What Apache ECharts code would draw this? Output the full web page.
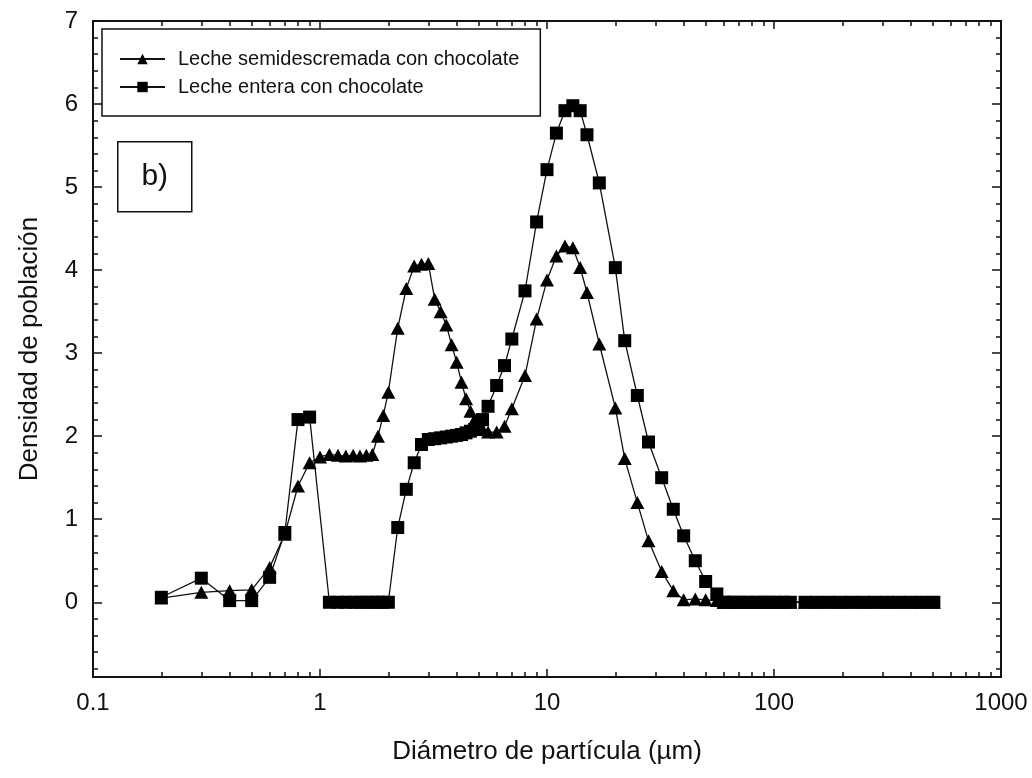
<!DOCTYPE html>
<html>
<head>
<meta charset="utf-8">
<script src="https://cdn.jsdelivr.net/npm/echarts@6/dist/echarts.min.js"></script>
<style>
  html, body { margin: 0; padding: 0; background: #ffffff; }
  #chart { width: 1032px; height: 778px; }
</style>
</head>
<body>
<div id="chart"></div>
<script>
// Particle diameter (µm) of every size class
const diametro = [
  0.2, 0.3, 0.4, 0.5, 0.6, 0.7, 0.8, 0.9, 1.0,
  1.1, 1.2, 1.3, 1.4, 1.5, 1.6, 1.7, 1.8, 1.9, 2.0,
  2.2, 2.4, 2.6, 2.8, 3.0, 3.2, 3.4, 3.6, 3.8, 4.0,
  4.2, 4.4, 4.6, 4.8, 5.0, 5.2, 5.5, 6.0, 6.5, 7.0,
  8, 9, 10, 11, 12, 13, 14, 15, 17, 20,
  22, 25, 28, 32, 36, 40, 45, 50, 56,
  60, 63, 67, 72, 77, 83, 89, 95, 102, 110, 118,
  137, 154, 174, 196, 220, 248, 279, 315, 354, 399, 449, 506
];

// Population density, semi-skimmed chocolate milk
const semidescremada = [
  0.05, 0.12, 0.14, 0.15, 0.42, 0.82, 1.40, 1.68, 1.75,
  1.78, 1.77, 1.76, 1.77, 1.76, 1.77, 1.78, 2.00, 2.25, 2.53,
  3.30, 3.78, 4.05, 4.07, 4.08, 3.65, 3.50, 3.34, 3.10, 2.89,
  2.65, 2.45, 2.30, 2.20, 2.13, 2.08, 2.05, 2.05, 2.12, 2.33,
  2.73, 3.41, 3.88, 4.17, 4.29, 4.27, 4.03, 3.73, 3.11, 2.34,
  1.73, 1.20, 0.74, 0.37, 0.14, 0.03, 0.04, 0.03, 0.02,
  0, 0, 0, 0, 0, 0, 0, 0, 0, 0, 0,
  0, 0, 0, 0, 0, 0, 0, 0, 0, 0, 0, 0
];

// Population density, whole chocolate milk (null: no reading in that class)
const entera = [
  0.06, 0.29, 0.02, 0.02, 0.30, 0.84, 2.20, 2.23, null,
  0, 0, 0, 0, 0, 0, 0, 0, 0, 0,
  0.90, 1.36, 1.68, 1.90, 1.96, 1.97, 1.98, 1.99, 2.00, 2.01,
  2.02, 2.04, 2.06, 2.08, 2.12, 2.20, 2.36, 2.61, 2.85, 3.17,
  3.75, 4.58, 5.21, 5.65, 5.92, 5.98, 5.92, 5.63, 5.05, 4.03,
  3.15, 2.49, 1.93, 1.50, 1.12, 0.80, 0.50, 0.25, 0.10,
  0, 0, 0, 0, 0, 0, 0, 0, 0, 0, 0,
  0, 0, 0, 0, 0, 0, 0, 0, 0, 0, 0, 0
];

const nombresSeries = ['Leche semidescremada con chocolate', 'Leche entera con chocolate'];
const ticksY = [0, 1, 2, 3, 4, 5, 6, 7];
const rangoY = [-0.9, 7];
const rangoX = [0.1, 1000];

// minor y ticks every 0.2
const ticksYMenores = [];
for (let i = -4; i <= 34; i++) { if (i % 5 !== 0) ticksYMenores.push(i / 5); }
// minor log ticks (2..9 of each decade), placed on a log10 companion axis
const ticksXMenores = [];
for (let e = -1; e < 3; e++) { for (let k = 2; k <= 9; k++) ticksXMenores.push(e + Math.log10(k)); }

const FONT = '"Liberation Sans", Arial, sans-serif';
const INK = '#111111';
const lineaEje = { show: true, onZero: false, lineStyle: { color: INK, width: 2 } };
const sinLinea = { show: false, onZero: false };

function ejeXLog(pos, labels) {
  return {
    type: 'log', logBase: 10, min: rangoX[0], max: rangoX[1], position: pos,
    axisLine: lineaEje,
    axisTick: { show: true, inside: true, length: 8, lineStyle: { color: INK, width: 1.5 } },
    axisLabel: labels ? {
      show: true, fontFamily: FONT, fontSize: 24, color: INK, margin: 14,
      formatter: v => String(+v.toPrecision(3))
    } : { show: false },
    splitLine: { show: false }, minorTick: { show: false }
  };
}
function ejeXMenor(pos) {
  return {
    type: 'value', min: -1, max: 3, position: pos,
    axisLine: sinLinea,
    axisTick: { show: true, inside: true, length: 5, customValues: ticksXMenores, lineStyle: { color: INK, width: 1.5 } },
    axisLabel: { show: false }, splitLine: { show: false }
  };
}
function ejeY(pos, labels) {
  return {
    type: 'value', min: rangoY[0], max: rangoY[1], position: pos,
    axisLine: lineaEje,
    axisTick: { show: true, inside: true, length: 9, customValues: ticksY, lineStyle: { color: INK, width: 1.5 } },
    axisLabel: labels ? {
      show: true, customValues: ticksY, fontFamily: FONT, fontSize: 24, color: INK, margin: 15
    } : { show: false },
    splitLine: { show: false }
  };
}
function ejeYMenor(pos) {
  return {
    type: 'value', min: rangoY[0], max: rangoY[1], position: pos,
    axisLine: sinLinea,
    axisTick: { show: true, inside: true, length: 5, customValues: ticksYMenores, lineStyle: { color: INK, width: 1.5 } },
    axisLabel: { show: false }, splitLine: { show: false }
  };
}

const ejeXPrincipal = ejeXLog('bottom', true);
ejeXPrincipal.name = 'Diámetro de partícula (µm)';
ejeXPrincipal.nameLocation = 'middle';
ejeXPrincipal.nameGap = 62;
ejeXPrincipal.nameTextStyle = { fontFamily: FONT, fontSize: 26, color: INK };

const ejeYPrincipal = ejeY('left', true);
ejeYPrincipal.name = 'Densidad de población';
ejeYPrincipal.nameLocation = 'middle';
ejeYPrincipal.nameRotate = 90;
ejeYPrincipal.nameGap = 50;
ejeYPrincipal.nameTextStyle = { fontFamily: FONT, fontSize: 26, color: INK };

const puntos = (ys) => diametro.map((d, i) => [d, ys[i]]);

const chart = echarts.init(document.getElementById('chart'), null, { renderer: 'canvas' });
chart.setOption({
  animation: false,
  backgroundColor: '#ffffff',
  grid: { left: 93, right: 31, top: 21, bottom: 101, containLabel: false },
  xAxis: [ejeXPrincipal, ejeXMenor('bottom'), ejeXLog('top', false), ejeXMenor('top')],
  yAxis: [ejeYPrincipal, ejeYMenor('left'), ejeY('right', false), ejeYMenor('right')],
  legend: {
    orient: 'vertical', left: 102, top: 29,
    padding: [20, 21, 19, 17], itemGap: 8,
    itemWidth: 45, itemHeight: 13,
    borderColor: INK, borderWidth: 1.5, backgroundColor: '#ffffff',
    textStyle: { fontFamily: FONT, fontSize: 20, color: INK, padding: [0, 0, 0, 8] },
    data: nombresSeries
  },
  graphic: [{
    type: 'group', left: 117, top: 141,
    children: [
      { type: 'rect', shape: { x: 0, y: 0, width: 74, height: 70 }, style: { fill: '#ffffff', stroke: INK, lineWidth: 1.5 } },
      { type: 'text', x: 37, y: 35, style: { text: 'b)', font: '30px ' + FONT, fill: INK, align: 'center', verticalAlign: 'middle' } }
    ]
  }],
  series: [
    {
      name: nombresSeries[0], type: 'line', xAxisIndex: 0, yAxisIndex: 0,
      data: puntos(semidescremada),
      symbol: 'triangle', symbolSize: [14, 13],
      lineStyle: { color: INK, width: 1.3 }, itemStyle: { color: '#000000' },
      z: 3
    },
    {
      name: nombresSeries[1], type: 'line', xAxisIndex: 0, yAxisIndex: 0,
      data: puntos(entera), connectNulls: true,
      symbol: 'rect', symbolSize: 13,
      lineStyle: { color: INK, width: 1.3 }, itemStyle: { color: '#000000' },
      z: 4
    }
  ]
});
</script>
</body>
</html>
